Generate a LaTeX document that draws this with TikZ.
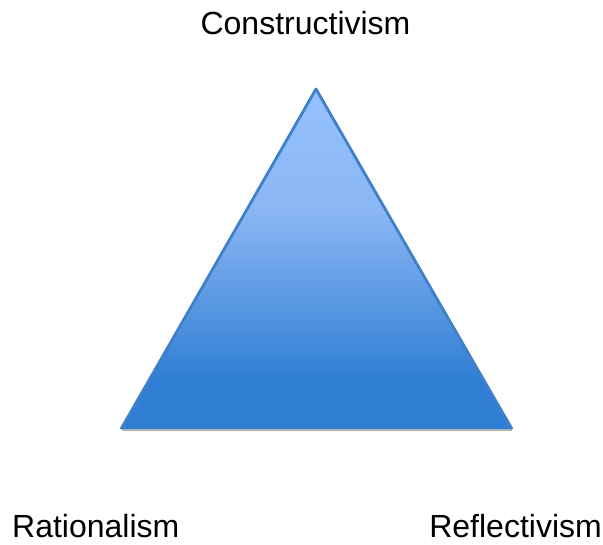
\documentclass[tikz,border=0pt]{standalone}
\usepackage{fontspec}
\setmainfont{Liberation Sans}
\definecolor{topblue}{HTML}{96C1FF}
\definecolor{lightblue}{HTML}{8AB6F4}
\definecolor{botblue}{HTML}{2F7ED4}
\definecolor{edgeblue}{HTML}{3F80C8}
\pgfdeclareverticalshading{triangleshade}{100bp}{color(0bp)=(botblue); color(32bp)=(botblue); color(57bp)=(lightblue); color(75bp)=(topblue); color(100bp)=(topblue)}
\begin{document}
\begin{tikzpicture}[x=1pt,y=1pt,
  lbl/.style={inner sep=0pt,font=\fontsize{32}{38}\selectfont,text=black}]
\useasboundingbox (0,0) rectangle (603,545);
\coordinate (apex) at (316,456);
\coordinate (bl) at (121,116);
\coordinate (br) at (512,116);
% shadow
\fill[gray!60] ([xshift=2pt,yshift=-2pt]bl) -- ([xshift=2pt,yshift=-2pt]br) -- ([yshift=-2pt]br) -- (br) -- (bl) -- cycle;
\shade[shading=triangleshade] (apex) -- (br) -- (bl) -- cycle;
\draw[edgeblue,line width=2.8pt,line join=round] (bl) -- (apex) -- (br);
\node[lbl,anchor=base] (c) at (305.5,510) {Constructivism};
\node[lbl,anchor=base west] (r) at (12,7) {Rationalism};
\node[lbl,anchor=base east] (f) at (602,7) {Reflectivism};
\end{tikzpicture}
\end{document}
